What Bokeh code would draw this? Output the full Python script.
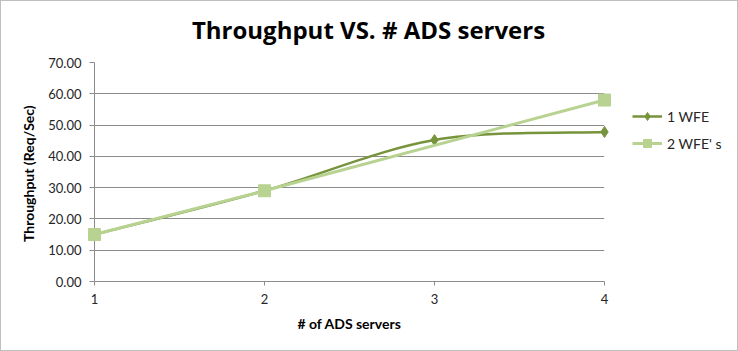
from bokeh.plotting import figure
from bokeh.layouts import row, column
from bokeh.models import (Range1d, FixedTicker, NumeralTickFormatter, Legend, LegendItem,
                          ColumnDataSource, Label)
from bokeh.embed import file_html
from bokeh.resources import INLINE

servers = [1, 2, 3, 4]
wfe1 = [15.0, 29.0, 45.2, 47.8]
servers2 = [1, 2, 4]
wfe2 = [15.0, 29.0, 58.0]
y_ticks = [0, 10, 20, 30, 40, 50, 60, 70]
x_ticks = [1, 2, 3, 4]
labels = ["1 WFE", "2 WFE' s"]
title_text = "Throughput VS. # ADS servers"

DARK = "#77933c"
LIGHT = "#b8d291"
GRID = "#8c8c8c"
FONT = "Lato"


def blank(width, height):
    f = figure(width=width, height=height, output_backend="svg", toolbar_location=None,
               x_range=Range1d(100, 101), y_range=Range1d(100, 101),
               x_axis_type=None, y_axis_type=None,
               min_border_left=0, min_border_right=0, min_border_top=0, min_border_bottom=0)
    f.outline_line_color = None
    f.xgrid.visible = False
    f.ygrid.visible = False
    f.background_fill_color = "white"
    f.border_fill_color = "white"
    return f


# title strip
t = blank(736, 51)
t.add_layout(Label(x=367, y=23.5, x_units="screen", y_units="screen", text=title_text,
                   text_font="Open Sans", text_font_style="bold", text_font_size="24px",
                   text_align="center", text_baseline="middle", text_color="#000000"))

# main chart
p = figure(width=620, height=298, output_backend="svg", toolbar_location=None,
           x_range=Range1d(1, 4), y_range=Range1d(0, 70),
           min_border_left=93, min_border_right=17, min_border_top=10, min_border_bottom=69)
p.outline_line_color = None
p.background_fill_color = "white"
p.border_fill_color = "white"

p.xgrid.grid_line_color = None
p.ygrid.grid_line_color = GRID
p.ygrid.grid_line_width = 1
p.ygrid.ticker = FixedTicker(ticks=y_ticks)

for ax in (p.xaxis[0], p.yaxis[0]):
    ax.axis_line_color = GRID
    ax.major_tick_line_color = GRID
    ax.minor_tick_line_color = None
    ax.major_tick_in = 0
    ax.major_label_text_font = FONT
    ax.major_label_text_font_size = "13px"
    ax.major_label_text_color = "#262626"
    ax.axis_label_text_font = FONT
    ax.axis_label_text_font_style = "bold"
    ax.axis_label_text_font_size = "14px"
    ax.axis_label_text_color = "#000000"

p.yaxis.ticker = FixedTicker(ticks=y_ticks)
p.yaxis.formatter = NumeralTickFormatter(format="0.00")
p.yaxis.major_tick_out = 5
p.yaxis.major_label_standoff = 8
p.yaxis.axis_label = "Throughput  (Req/Sec)"
p.yaxis.axis_label_standoff = 8

p.xaxis.ticker = FixedTicker(ticks=x_ticks)
p.xaxis.major_tick_out = 4
p.xaxis.major_label_standoff = 8
p.xaxis.axis_label = "# of ADS servers"
p.xaxis.axis_label_standoff = 8

# smoothed line for series 1 (Excel-like smoothing via cubic Bezier control points)
n = len(servers)
x0, y0, x1, y1, cx0, cy0, cx1, cy1 = [], [], [], [], [], [], [], []
for i in range(n - 1):
    pm = i - 1 if i > 0 else i
    pp = i + 2 if i + 2 < n else i + 1
    x0.append(servers[i]); y0.append(wfe1[i])
    x1.append(servers[i + 1]); y1.append(wfe1[i + 1])
    cx0.append(servers[i] + (servers[i + 1] - servers[pm]) / 6)
    cy0.append(wfe1[i] + (wfe1[i + 1] - wfe1[pm]) / 6)
    cx1.append(servers[i + 1] - (servers[pp] - servers[i]) / 6)
    cy1.append(wfe1[i + 1] - (wfe1[pp] - wfe1[i]) / 6)

bsrc = ColumnDataSource(dict(x0=x0, y0=y0, x1=x1, y1=y1, cx0=cx0, cy0=cy0, cx1=cx1, cy1=cy1))

p.bezier(x0="x0", y0="y0", x1="x1", y1="y1", cx0="cx0", cy0="cy0", cx1="cx1", cy1="cy1",
         source=bsrc, line_color=DARK, line_width=2.5, level="overlay")
p.scatter(servers, wfe1, marker="diamond", size=11, fill_color=DARK, line_color=DARK,
          level="overlay")
p.line(servers2, wfe2, line_color=LIGHT, line_width=3, level="overlay")
p.scatter(servers2, wfe2, marker="square", size=12, fill_color=LIGHT, line_color=LIGHT,
          level="overlay")

# legend panel (its data lies outside its ranges; only the legend shows)
q = blank(116, 298)
r1l = q.line(servers, wfe1, line_color=DARK, line_width=2.5)
r1m = q.scatter(servers, wfe1, marker="diamond", size=9, fill_color=DARK, line_color=DARK)
r2l = q.line(servers2, wfe2, line_color=LIGHT, line_width=3)
r2m = q.scatter(servers2, wfe2, marker="square", size=10, fill_color=LIGHT, line_color=LIGHT)

legend = Legend(items=[LegendItem(label=labels[0], renderers=[r1l, r1m]),
                       LegendItem(label=labels[1], renderers=[r2l, r2m])],
                location=(11, 128), orientation="vertical",
                border_line_color=None, background_fill_alpha=0,
                padding=0, spacing=7, label_height=20, glyph_height=20, glyph_width=30,
                label_standoff=5, label_text_font=FONT, label_text_font_size="14px",
                label_text_color="#262626", margin=0)
q.add_layout(legend)

layout = column(t, row(p, q, spacing=0), spacing=0)
layout.styles = {"border": "1px solid #bfbfbf"}

open("out.html", "w").write(file_html(layout, INLINE))
